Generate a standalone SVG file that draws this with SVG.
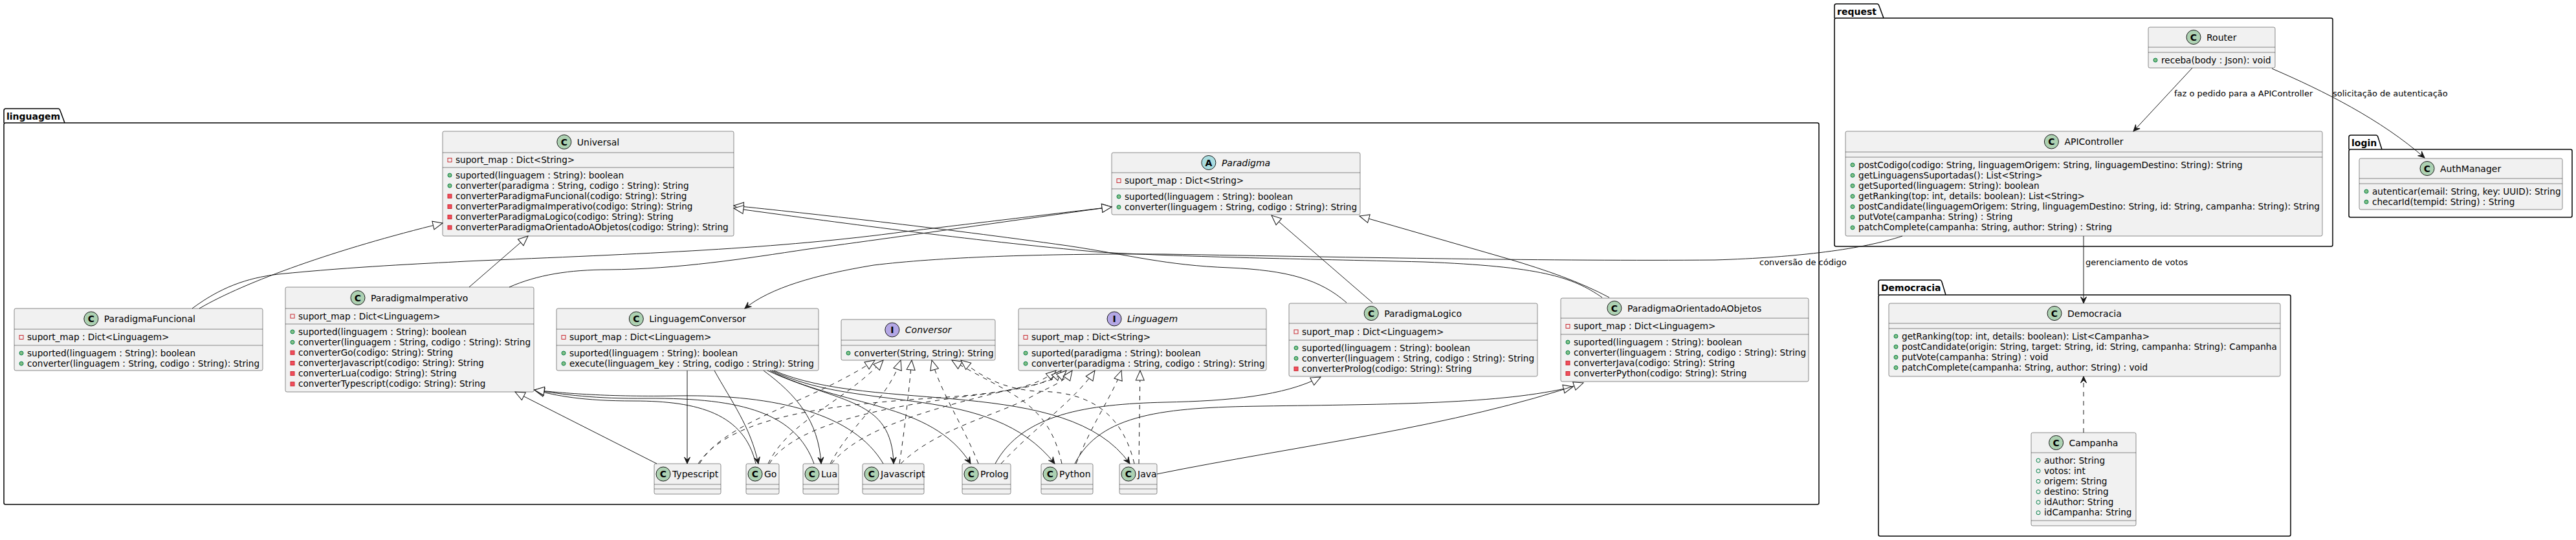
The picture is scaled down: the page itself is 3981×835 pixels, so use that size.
<svg xmlns="http://www.w3.org/2000/svg" width="3981" height="835" viewBox="0 0 3981 835">
<style>
text{font-family:"DejaVu Sans",Verdana,sans-serif;fill:#000}
.n{font-size:14px}
.i{font-style:italic}
.m{font-size:13.6px}
.lb{font-size:13px}
.p{font-size:14px;font-weight:bold}
.g{font-size:14px;font-weight:bold;text-anchor:middle}
.box{fill:#F1F1F1;stroke:#181818;stroke-width:0.5}
.sep{stroke:#181818;stroke-width:0.5}
.pkg{fill:none;stroke:#000;stroke-width:1.5}
.e{fill:none;stroke:#181818;stroke-width:1}
.d{stroke-dasharray:7,7}
</style>
<defs>
<circle id="pm" r="3" fill="#84BE84" stroke="#038048"/>
<circle id="pf" r="3" fill="none" stroke="#038048"/>
<rect id="vm" x="-3" y="-3" width="6" height="6" fill="#F24D5C" stroke="#C82930"/>
<rect id="vf" x="-3" y="-3" width="6" height="6" fill="none" stroke="#C82930"/>
<circle id="cc" r="11" fill="#ADD1B2" stroke="#181818"/>
<circle id="ca" r="11" fill="#A9DCDF" stroke="#181818"/>
<circle id="ci" r="11" fill="#B4A7E5" stroke="#181818"/>
<marker id="tri" viewBox="-17 -9 19 18" markerWidth="19" markerHeight="18" refX="0" refY="0" orient="auto" markerUnits="userSpaceOnUse">
<path d="M0,0 L-15,-6.5 L-15,6.5 Z" fill="#fff" stroke="#181818" stroke-width="1" stroke-dasharray="none"/>
</marker>
<marker id="arr" viewBox="-11 -6 12 12" markerWidth="12" markerHeight="12" refX="0" refY="0" orient="auto" markerUnits="userSpaceOnUse">
<path d="M0,0 L-10,-4.5 L-6,0 L-10,4.5 Z" fill="#181818" stroke="#181818" stroke-width="1" stroke-dasharray="none"/>
</marker>
</defs>
<rect width="3981" height="835" fill="#fff"/>

<g id="packages">
<g id="pkg-linguagem">
<path class="pkg" d="M6,190 L6,171 Q6,168 9,168 L90,168 Q92,168 93,171 L100,190"/>
<rect class="pkg" x="6" y="190" width="2805" height="590" rx="2.5"/>
<text class="p" x="10" y="185">linguagem</text>
</g>
<g id="pkg-request">
<path class="pkg" d="M2835,28 L2835,9 Q2835,6 2838,6 L2901,6 Q2903,6 2904,9 L2911,28"/>
<rect class="pkg" x="2835" y="28" width="770" height="353" rx="2.5"/>
<text class="p" x="2839" y="23">request</text>
</g>
<g id="pkg-login">
<path class="pkg" d="M3630,231 L3630,212 Q3630,209 3633,209 L3672,209 Q3674,209 3675,212 L3681,231"/>
<rect class="pkg" x="3630" y="231" width="345" height="105" rx="2.5"/>
<text class="p" x="3634" y="226">login</text>
</g>
<g id="pkg-democracia">
<path class="pkg" d="M2903,456 L2903,436 Q2903,433 2906,433 L2998,433 Q3000,433 3001,436 L3007,456"/>
<rect class="pkg" x="2903" y="456" width="637" height="373" rx="2.5"/>
<text class="p" x="2907" y="450">Democracia</text>
</g>
</g>

<g id="Universal">
<rect class="box" x="684" y="203" width="450" height="162" rx="2.5"/>
<line class="sep" x1="684" y1="236" x2="1134" y2="236"/>
<line class="sep" x1="684" y1="259" x2="1134" y2="259"/>
<use href="#cc" x="871.8" y="219.5"/><text class="g" x="871.8" y="224.5">C</text>
<text class="n" x="891.8" y="224.5">Universal</text>
<use href="#vf" x="695" y="247.5"/><text class="m" x="704" y="252">suport_map : Dict&lt;String&gt;</text>
<use href="#pm" x="695" y="271"/><text class="m" x="704" y="275.5">suported(linguagem : String): boolean</text>
<use href="#pm" x="695" y="287.2"/><text class="m" x="704" y="291.7">converter(paradigma : String, codigo : String): String</text>
<use href="#vm" x="695" y="303.3"/><text class="m" x="704" y="307.8">converterParadigmaFuncional(codigo: String): String</text>
<use href="#vm" x="695" y="319.5"/><text class="m" x="704" y="324">converterParadigmaImperativo(codigo: String): String</text>
<use href="#vm" x="695" y="335.6"/><text class="m" x="704" y="340.1">converterParadigmaLogico(codigo: String): String</text>
<use href="#vm" x="695" y="351.8"/><text class="m" x="704" y="356.3">converterParadigmaOrientadoAObjetos(codigo: String): String</text>
</g>

<g id="Paradigma">
<rect class="box" x="1718" y="236" width="384" height="96" rx="2.5"/>
<line class="sep" x1="1718" y1="267" x2="2102" y2="267"/>
<line class="sep" x1="1718" y1="292" x2="2102" y2="292"/>
<use href="#ca" x="1867.9" y="251.5"/><text class="g" x="1867.9" y="256.5">A</text>
<text class="n i" x="1887.9" y="256.5">Paradigma</text>
<use href="#vf" x="1729" y="279.5"/><text class="m" x="1738" y="284">suport_map : Dict&lt;String&gt;</text>
<use href="#pm" x="1729" y="304"/><text class="m" x="1738" y="308.5">suported(linguagem : String): boolean</text>
<use href="#pm" x="1729" y="320.2"/><text class="m" x="1738" y="324.7">converter(linguagem : String, codigo : String): String</text>
</g>

<g id="ParadigmaFuncional">
<rect class="box" x="22" y="477" width="384" height="96" rx="2.5"/>
<line class="sep" x1="22" y1="509" x2="406" y2="509"/>
<line class="sep" x1="22" y1="534" x2="406" y2="534"/>
<use href="#cc" x="140.8" y="493"/><text class="g" x="140.8" y="498">C</text>
<text class="n" x="160.8" y="498">ParadigmaFuncional</text>
<use href="#vf" x="33" y="521.5"/><text class="m" x="42" y="526">suport_map : Dict&lt;Linguagem&gt;</text>
<use href="#pm" x="33" y="546"/><text class="m" x="42" y="550.5">suported(linguagem : String): boolean</text>
<use href="#pm" x="33" y="562.2"/><text class="m" x="42" y="566.7">converter(linguagem : String, codigo : String): String</text>
</g>

<g id="ParadigmaImperativo">
<rect class="box" x="441" y="444" width="384" height="162" rx="2.5"/>
<line class="sep" x1="441" y1="477" x2="825" y2="477"/>
<line class="sep" x1="441" y1="501" x2="825" y2="501"/>
<use href="#cc" x="553" y="460.5"/><text class="g" x="553" y="465.5">C</text>
<text class="n" x="573" y="465.5">ParadigmaImperativo</text>
<use href="#vf" x="452" y="489"/><text class="m" x="461" y="493.5">suport_map : Dict&lt;Linguagem&gt;</text>
<use href="#pm" x="452" y="513"/><text class="m" x="461" y="517.5">suported(linguagem : String): boolean</text>
<use href="#pm" x="452" y="529.2"/><text class="m" x="461" y="533.7">converter(linguagem : String, codigo : String): String</text>
<use href="#vm" x="452" y="545.3"/><text class="m" x="461" y="549.8">converterGo(codigo: String): String</text>
<use href="#vm" x="452" y="561.5"/><text class="m" x="461" y="566">converterJavascript(codigo: String): String</text>
<use href="#vm" x="452" y="577.6"/><text class="m" x="461" y="582.1">converterLua(codigo: String): String</text>
<use href="#vm" x="452" y="593.8"/><text class="m" x="461" y="598.3">converterTypescript(codigo: String): String</text>
</g>

<g id="LinguagemConversor">
<rect class="box" x="860" y="477" width="405" height="96" rx="2.5"/>
<line class="sep" x1="860" y1="509" x2="1265" y2="509"/>
<line class="sep" x1="860" y1="534" x2="1265" y2="534"/>
<use href="#cc" x="983.3" y="493"/><text class="g" x="983.3" y="498">C</text>
<text class="n" x="1003.3" y="498">LinguagemConversor</text>
<use href="#vf" x="871" y="521.5"/><text class="m" x="880" y="526">suport_map : Dict&lt;Linguagem&gt;</text>
<use href="#pm" x="871" y="546"/><text class="m" x="880" y="550.5">suported(linguagem : String): boolean</text>
<use href="#pm" x="871" y="562.2"/><text class="m" x="880" y="566.7">execute(linguagem_key : String, codigo : String): String</text>
</g>

<g id="Conversor">
<rect class="box" x="1300" y="494" width="238" height="63" rx="2.5"/>
<line class="sep" x1="1300" y1="526" x2="1538" y2="526"/>
<line class="sep" x1="1300" y1="534" x2="1538" y2="534"/>
<use href="#ci" x="1378.8" y="510"/><text class="g" x="1378.8" y="515">I</text>
<text class="n i" x="1398.8" y="515">Conversor</text>
<use href="#pm" x="1311" y="546"/><text class="m" x="1320" y="550.5">converter(String, String): String</text>
</g>

<g id="Linguagem">
<rect class="box" x="1574" y="477" width="383" height="96" rx="2.5"/>
<line class="sep" x1="1574" y1="509" x2="1957" y2="509"/>
<line class="sep" x1="1574" y1="534" x2="1957" y2="534"/>
<use href="#ci" x="1722" y="493"/><text class="g" x="1722" y="498">I</text>
<text class="n i" x="1742" y="498">Linguagem</text>
<use href="#vf" x="1585" y="521.5"/><text class="m" x="1594" y="526">suport_map : Dict&lt;String&gt;</text>
<use href="#pm" x="1585" y="546"/><text class="m" x="1594" y="550.5">suported(paradigma : String): boolean</text>
<use href="#pm" x="1585" y="562.2"/><text class="m" x="1594" y="566.7">converter(paradigma : String, codigo : String): String</text>
</g>

<g id="ParadigmaLogico">
<rect class="box" x="1992" y="469" width="384" height="113" rx="2.5"/>
<line class="sep" x1="1992" y1="500" x2="2376" y2="500"/>
<line class="sep" x1="1992" y1="526" x2="2376" y2="526"/>
<use href="#cc" x="2119.2" y="484.5"/><text class="g" x="2119.2" y="489.5">C</text>
<text class="n" x="2139.2" y="489.5">ParadigmaLogico</text>
<use href="#vf" x="2003" y="513"/><text class="m" x="2012" y="517.5">suport_map : Dict&lt;Linguagem&gt;</text>
<use href="#pm" x="2003" y="538"/><text class="m" x="2012" y="542.5">suported(linguagem : String): boolean</text>
<use href="#pm" x="2003" y="554.2"/><text class="m" x="2012" y="558.7">converter(linguagem : String, codigo : String): String</text>
<use href="#vm" x="2003" y="570.3"/><text class="m" x="2012" y="574.8">converterProlog(codigo: String): String</text>
</g>

<g id="ParadigmaOrientadoAObjetos">
<rect class="box" x="2412" y="461" width="383" height="129" rx="2.5"/>
<line class="sep" x1="2412" y1="492" x2="2795" y2="492"/>
<line class="sep" x1="2412" y1="517" x2="2795" y2="517"/>
<use href="#cc" x="2494.9" y="476.5"/><text class="g" x="2494.9" y="481.5">C</text>
<text class="n" x="2514.9" y="481.5">ParadigmaOrientadoAObjetos</text>
<use href="#vf" x="2423" y="504.5"/><text class="m" x="2432" y="509">suport_map : Dict&lt;Linguagem&gt;</text>
<use href="#pm" x="2423" y="529"/><text class="m" x="2432" y="533.5">suported(linguagem : String): boolean</text>
<use href="#pm" x="2423" y="545.2"/><text class="m" x="2432" y="549.7">converter(linguagem : String, codigo : String): String</text>
<use href="#vm" x="2423" y="561.3"/><text class="m" x="2432" y="565.8">converterJava(codigo: String): String</text>
<use href="#vm" x="2423" y="577.5"/><text class="m" x="2432" y="582">converterPython(codigo: String): String</text>
</g>

<g id="Typescript">
<rect class="box" x="1011" y="717" width="103" height="47" rx="2.5"/>
<line class="sep" x1="1011" y1="749" x2="1114" y2="749"/><line class="sep" x1="1011" y1="756" x2="1114" y2="756"/>
<use href="#cc" x="1025" y="733"/><text class="g" x="1025" y="738">C</text>
<text class="n" x="1039" y="738">Typescript</text>
</g>
<g id="Go">
<rect class="box" x="1153" y="717" width="51" height="47" rx="2.5"/>
<line class="sep" x1="1153" y1="749" x2="1204" y2="749"/><line class="sep" x1="1153" y1="756" x2="1204" y2="756"/>
<use href="#cc" x="1167" y="733"/><text class="g" x="1167" y="738">C</text>
<text class="n" x="1181" y="738">Go</text>
</g>
<g id="Lua">
<rect class="box" x="1241" y="717" width="55" height="47" rx="2.5"/>
<line class="sep" x1="1241" y1="749" x2="1296" y2="749"/><line class="sep" x1="1241" y1="756" x2="1296" y2="756"/>
<use href="#cc" x="1255" y="733"/><text class="g" x="1255" y="738">C</text>
<text class="n" x="1269" y="738">Lua</text>
</g>
<g id="Javascript">
<rect class="box" x="1333" y="717" width="95" height="47" rx="2.5"/>
<line class="sep" x1="1333" y1="749" x2="1428" y2="749"/><line class="sep" x1="1333" y1="756" x2="1428" y2="756"/>
<use href="#cc" x="1347" y="733"/><text class="g" x="1347" y="738">C</text>
<text class="n" x="1361" y="738">Javascript</text>
</g>
<g id="Prolog">
<rect class="box" x="1487" y="717" width="75" height="47" rx="2.5"/>
<line class="sep" x1="1487" y1="749" x2="1562" y2="749"/><line class="sep" x1="1487" y1="756" x2="1562" y2="756"/>
<use href="#cc" x="1501" y="733"/><text class="g" x="1501" y="738">C</text>
<text class="n" x="1515" y="738">Prolog</text>
</g>
<g id="Python">
<rect class="box" x="1609" y="717" width="80" height="47" rx="2.5"/>
<line class="sep" x1="1609" y1="749" x2="1689" y2="749"/><line class="sep" x1="1609" y1="756" x2="1689" y2="756"/>
<use href="#cc" x="1623" y="733"/><text class="g" x="1623" y="738">C</text>
<text class="n" x="1637" y="738">Python</text>
</g>
<g id="Java">
<rect class="box" x="1730" y="717" width="58" height="47" rx="2.5"/>
<line class="sep" x1="1730" y1="749" x2="1788" y2="749"/><line class="sep" x1="1730" y1="756" x2="1788" y2="756"/>
<use href="#cc" x="1744" y="733"/><text class="g" x="1744" y="738">C</text>
<text class="n" x="1758" y="738">Java</text>
</g>

<g id="Router">
<rect class="box" x="3320" y="42" width="196" height="63" rx="2.5"/>
<line class="sep" x1="3320" y1="73" x2="3516" y2="73"/>
<line class="sep" x1="3320" y1="81" x2="3516" y2="81"/>
<use href="#cc" x="3390" y="57.5"/><text class="g" x="3390" y="62.5">C</text>
<text class="n" x="3410" y="62.5">Router</text>
<use href="#pm" x="3331" y="93"/><text class="m" x="3340" y="97.5">receba(body : Json): void</text>
</g>

<g id="APIController">
<rect class="box" x="2852" y="203" width="737" height="162" rx="2.5"/>
<line class="sep" x1="2852" y1="235" x2="3589" y2="235"/>
<line class="sep" x1="2852" y1="243" x2="3589" y2="243"/>
<use href="#cc" x="3170.4" y="219"/><text class="g" x="3170.4" y="224">C</text>
<text class="n" x="3190.4" y="224">APIController</text>
<use href="#pm" x="2863" y="255"/><text class="m" x="2872" y="259.5">postCodigo(codigo: String, linguagemOrigem: String, linguagemDestino: String): String</text>
<use href="#pm" x="2863" y="271.2"/><text class="m" x="2872" y="275.7">getLinguagensSuportadas(): List&lt;String&gt;</text>
<use href="#pm" x="2863" y="287.3"/><text class="m" x="2872" y="291.8">getSuported(linguagem: String): boolean</text>
<use href="#pm" x="2863" y="303.5"/><text class="m" x="2872" y="308">getRanking(top: int, details: boolean): List&lt;String&gt;</text>
<use href="#pm" x="2863" y="319.6"/><text class="m" x="2872" y="324.1">postCandidate(linguagemOrigem: String, linguagemDestino: String, id: String, campanha: String): String</text>
<use href="#pm" x="2863" y="335.8"/><text class="m" x="2872" y="340.3">putVote(campanha: String) : String</text>
<use href="#pm" x="2863" y="351.9"/><text class="m" x="2872" y="356.4">patchComplete(campanha: String, author: String) : String</text>
</g>

<g id="AuthManager">
<rect class="box" x="3646" y="245" width="314" height="79" rx="2.5"/>
<line class="sep" x1="3646" y1="276" x2="3960" y2="276"/>
<line class="sep" x1="3646" y1="284" x2="3960" y2="284"/>
<use href="#cc" x="3751" y="260.5"/><text class="g" x="3751" y="265.5">C</text>
<text class="n" x="3771" y="265.5">AuthManager</text>
<use href="#pm" x="3657" y="296"/><text class="m" x="3666" y="300.5">autenticar(email: String, key: UUID): String</text>
<use href="#pm" x="3657" y="312.2"/><text class="m" x="3666" y="316.7">checarId(tempid: String) : String</text>
</g>

<g id="Democracia">
<rect class="box" x="2919" y="469" width="605" height="113" rx="2.5"/>
<line class="sep" x1="2919" y1="500" x2="3524" y2="500"/>
<line class="sep" x1="2919" y1="508" x2="3524" y2="508"/>
<use href="#cc" x="3175" y="484.5"/><text class="g" x="3175" y="489.5">C</text>
<text class="n" x="3195" y="489.5">Democracia</text>
<use href="#pm" x="2930" y="520"/><text class="m" x="2939" y="524.5">getRanking(top: int, details: boolean): List&lt;Campanha&gt;</text>
<use href="#pm" x="2930" y="536.2"/><text class="m" x="2939" y="540.7">postCandidate(origin: String, target: String, id: String, campanha: String): Campanha</text>
<use href="#pm" x="2930" y="552.3"/><text class="m" x="2939" y="556.8">putVote(campanha: String) : void</text>
<use href="#pm" x="2930" y="568.5"/><text class="m" x="2939" y="573">patchComplete(campanha: String, author: String) : void</text>
</g>

<g id="Campanha">
<rect class="box" x="3139" y="669" width="162" height="144" rx="2.5"/>
<line class="sep" x1="3139" y1="700" x2="3301" y2="700"/>
<line class="sep" x1="3139" y1="805" x2="3301" y2="805"/>
<use href="#cc" x="3177.6" y="684.5"/><text class="g" x="3177.6" y="689.5">C</text>
<text class="n" x="3197.6" y="689.5">Campanha</text>
<use href="#pf" x="3150" y="712"/><text class="m" x="3159" y="716.5">author: String</text>
<use href="#pf" x="3150" y="728.2"/><text class="m" x="3159" y="732.7">votos: int</text>
<use href="#pf" x="3150" y="744.3"/><text class="m" x="3159" y="748.8">origem: String</text>
<use href="#pf" x="3150" y="760.5"/><text class="m" x="3159" y="765">destino: String</text>
<use href="#pf" x="3150" y="776.6"/><text class="m" x="3159" y="781.1">idAuthor: String</text>
<use href="#pf" x="3150" y="792.8"/><text class="m" x="3159" y="797.3">idCampanha: String</text>
</g>

<g id="connectors">
<!-- generalizations -->
<path class="e" marker-end="url(#tri)" d="M308,477 C380,435 520,385 684,345"/>
<path class="e" marker-end="url(#tri)" d="M297,477 C340,445 380,430 430,424 C550,412 650,408 720,404 C1000,392 1200,385 1400,358 C1550,340 1650,328 1718,320"/>
<path class="e" marker-end="url(#tri)" d="M725,444 L816,365"/>
<path class="e" marker-end="url(#tri)" d="M787,444 C830,425 880,417 940,417 C1050,416 1150,400 1250,385 C1450,358 1620,333 1718,320"/>
<path class="e" marker-end="url(#tri)" d="M2081,468 C2040,432 1990,418 1900,414 C1800,410 1750,395 1650,380 C1450,352 1250,330 1134,318"/>
<path class="e" marker-end="url(#tri)" d="M2476,460 C2430,428 2380,412 2200,405 C2000,400 1850,398 1700,390 C1500,372 1280,342 1134,322"/>
<path class="e" marker-end="url(#tri)" d="M2121,468 L1965,333"/>
<path class="e" marker-end="url(#tri)" d="M2487,460 C2440,435 2390,418 2330,400 L2101,334"/>
<path class="e" marker-end="url(#tri)" d="M1015,717 L796,606"/>
<path class="e" marker-end="url(#tri)" d="M1168,717 C1150,640 1080,620 980,620 C900,620 860,612 826,603"/>
<path class="e" marker-end="url(#tri)" d="M1258,717 C1230,640 1150,615 1000,616 C920,617 870,610 826,603"/>
<path class="e" marker-end="url(#tri)" d="M1365,717 C1320,640 1200,610 1050,612 C940,614 870,608 826,603"/>
<path class="e" marker-end="url(#tri)" d="M1538,717 C1580,640 1680,625 1800,622 C1900,620 1985,612 2041,583"/>
<path class="e" marker-end="url(#tri)" d="M1661,717 C1700,640 1800,630 1950,628 C2150,625 2320,625 2431,598"/>
<path class="e" marker-end="url(#tri)" d="M1788,733 C2000,690 2250,660 2447,592"/>
<!-- realizations -->
<path class="e d" marker-end="url(#tri)" d="M1081,717 C1120,650 1250,625 1352,557"/>
<path class="e d" marker-end="url(#tri)" d="M1079,717 C1130,640 1300,625 1450,615 C1550,608 1600,600 1632,573"/>
<path class="e d" marker-end="url(#tri)" d="M1187,717 C1220,650 1300,625 1365,557"/>
<path class="e d" marker-end="url(#tri)" d="M1189,717 C1230,650 1400,625 1500,612 C1580,602 1620,595 1640,573"/>
<path class="e d" marker-end="url(#tri)" d="M1283,717 C1320,650 1370,620 1392,557"/>
<path class="e d" marker-end="url(#tri)" d="M1285,717 C1330,660 1450,630 1550,605 C1600,595 1630,590 1648,573"/>
<path class="e d" marker-end="url(#tri)" d="M1390,717 C1400,650 1405,600 1409,557"/>
<path class="e d" marker-end="url(#tri)" d="M1392,717 C1450,660 1550,640 1600,610 C1630,595 1645,590 1657,573"/>
<path class="e d" marker-end="url(#tri)" d="M1512,717 C1490,660 1455,610 1440,557"/>
<path class="e d" marker-end="url(#tri)" d="M1547,717 C1600,660 1660,620 1692,573"/>
<path class="e d" marker-end="url(#tri)" d="M1641,717 C1620,620 1560,610 1471,557"/>
<path class="e d" marker-end="url(#tri)" d="M1663,717 C1690,650 1720,610 1733,573"/>
<path class="e d" marker-end="url(#tri)" d="M1753,717 C1730,620 1660,605 1600,605 C1550,600 1520,585 1485,557"/>
<path class="e d" marker-end="url(#tri)" d="M1760,717 L1762,573"/>
<!-- associations LinguagemConversor -> languages -->
<path class="e" marker-end="url(#arr)" d="M1062,573 L1062,717"/>
<path class="e" marker-end="url(#arr)" d="M1104,573 C1130,620 1160,660 1172,717"/>
<path class="e" marker-end="url(#arr)" d="M1180,573 C1230,610 1265,650 1269,717"/>
<path class="e" marker-end="url(#arr)" d="M1186,573 C1300,625 1378,615 1381,717"/>
<path class="e" marker-end="url(#arr)" d="M1190,573 C1300,630 1440,620 1500,717"/>
<path class="e" marker-end="url(#arr)" d="M1193,573 C1330,640 1530,590 1630,717"/>
<path class="e" marker-end="url(#arr)" d="M1196,573 C1350,640 1650,580 1746,717"/>
<!-- request / login / democracia -->
<path class="e" marker-end="url(#arr)" d="M3388,105 L3297,203"/>
<path class="e" marker-end="url(#arr)" d="M3511,106 C3590,140 3680,185 3747,244"/>
<path class="e" marker-end="url(#arr)" d="M2940,365 C2880,385 2780,398 2650,402 C2400,404 2100,398 1800,393 C1600,392 1450,398 1350,410 C1260,425 1190,445 1151,477"/>
<path class="e" marker-end="url(#arr)" d="M3220,365 L3220,469"/>
<path class="e d" marker-end="url(#arr)" d="M3220,669 L3220,582"/>
<text class="lb" x="3360" y="149">faz o pedido para a APIController</text>
<text class="lb" x="3605" y="149">solicitação de autenticação</text>
<text class="lb" x="2719" y="410">conversão de código</text>
<text class="lb" x="3223" y="410">gerenciamento de votos</text>
</g>
</svg>
